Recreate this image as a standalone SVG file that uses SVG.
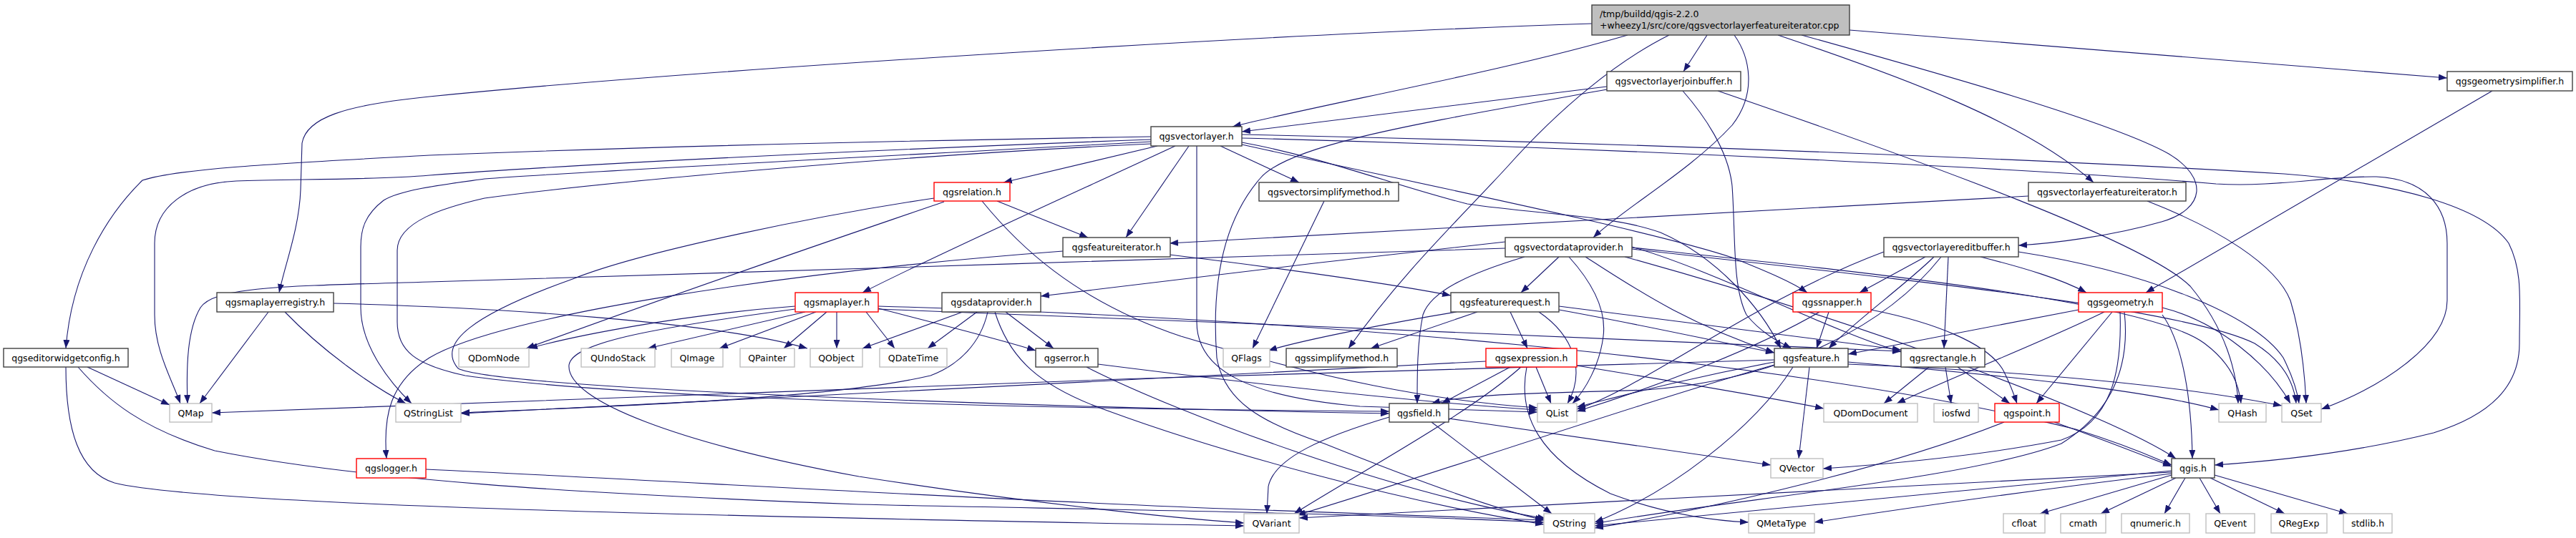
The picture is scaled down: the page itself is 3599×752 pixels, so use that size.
<svg xmlns="http://www.w3.org/2000/svg" width="3599" height="752" viewBox="0 0 3599 752">
<style>
.e{fill:none;stroke:#191970;stroke-width:1.1}
.n rect{fill:#fff;stroke:#404040;stroke-width:1.4}
.r rect{fill:#fff;stroke:#ff0000;stroke-width:1.4}
.g rect{fill:#fff;stroke:#bfbfbf;stroke-width:1.4}
.root rect{fill:#bfbfbf;stroke:#404040;stroke-width:1.4}
text{font-family:"DejaVu Sans","Liberation Sans",sans-serif;font-size:12.5px;fill:#000;text-anchor:middle}
.root text{text-anchor:start}
</style>
<defs>
<marker id="a" viewBox="0 0 12 9" refX="12" refY="4.5" markerWidth="12" markerHeight="9" markerUnits="userSpaceOnUse" orient="auto"><path d="M0,0L12,4.5L0,9z" fill="#191970"/></marker>
</defs>
<rect width="3599" height="752" fill="#fff"/>
<g id="edges">
<path class="e" marker-end="url(#a)" d="M2224,33 C1800,47 1000,95 600,135 C480,147 428,165 422,200 L420,265 C418,320 398,370 390,409"/>
<path class="e" marker-end="url(#a)" d="M2274,49 C2100,100 1850,145 1722,177"/>
<path class="e" marker-end="url(#a)" d="M2332,49 C2260,85 2180,150 2106,233 C2040,305 1960,380 1884,487"/>
<path class="e" marker-end="url(#a)" d="M2423,49 C2445,80 2455,130 2420,175 C2360,240 2270,290 2226,332"/>
<path class="e" marker-end="url(#a)" d="M2385,49 L2352,100"/>
<path class="e" marker-end="url(#a)" d="M2484,49 C2650,105 2830,170 2925,255"/>
<path class="e" marker-end="url(#a)" d="M2517,49 C2700,100 2950,170 3030,215 C3085,248 3082,292 3020,310 C2950,330 2870,340 2820,343"/>
<path class="e" marker-end="url(#a)" d="M2584,42 L3419,109"/>
<path class="e" marker-end="url(#a)" d="M2245,121 C2050,145 1850,170 1735,184"/>
<path class="e" marker-end="url(#a)" d="M2245,125 C2000,170 1800,200 1760,250 C1700,320 1694,420 1700,500 C1710,560 1760,590 1850,620 C1950,660 2080,710 2157,727"/>
<path class="e" marker-end="url(#a)" d="M2351,127 C2380,160 2415,210 2420,260 C2425,330 2420,400 2440,440 C2460,465 2485,478 2503,487"/>
<path class="e" marker-end="url(#a)" d="M2400,127 C2700,230 3000,340 3060,400 C3110,460 3125,520 3127,564"/>
<path class="e" marker-end="url(#a)" d="M1617,204 L1402,255"/>
<path class="e" marker-end="url(#a)" d="M1661,204 L1573,332"/>
<path class="e" marker-end="url(#a)" d="M1642,204 C1500,270 1300,360 1205,409"/>
<path class="e" marker-end="url(#a)" d="M1705,204 L1815,255"/>
<path class="e" marker-end="url(#a)" d="M1672,204 L1672,450 C1672,520 1750,555 1900,568 L2148,576"/>
<path class="e" marker-end="url(#a)" d="M1608,191 C1300,196 900,205 600,217 C400,228 250,235 199,252 C150,300 100,380 92,487"/>
<path class="e" marker-end="url(#a)" d="M1608,195 C1200,210 800,230 600,245 C520,252 400,250 330,253 C260,256 216,290 216,340 L216,440 C216,490 240,530 252,564"/>
<path class="e" marker-end="url(#a)" d="M1608,198 C1300,215 800,240 677,250 C620,258 560,265 536,280 C510,300 504,320 504,345 L504,430 C504,480 540,530 575,564"/>
<path class="e" marker-end="url(#a)" d="M1608,201 C1200,220 800,260 677,277 C620,290 555,310 555,350 L555,450 C555,490 580,510 650,525 C900,560 1500,572 1941,575"/>
<path class="e" marker-end="url(#a)" d="M1735,199 C1850,220 1950,260 2050,285 C2150,300 2250,300 2320,325 C2400,360 2460,430 2488,487"/>
<path class="e" marker-end="url(#a)" d="M1735,202 C1950,250 2300,320 2420,360 C2470,380 2505,395 2525,409"/>
<path class="e" marker-end="url(#a)" d="M1735,188 C2300,200 2900,225 3191,243 C3350,255 3470,290 3505,340 C3525,380 3520,420 3520,480 C3520,540 3480,580 3400,605 C3280,635 3170,645 3094,650"/>
<path class="e" marker-end="url(#a)" d="M1735,193 C2300,208 2900,240 3096,257 C3180,262 3250,246 3320,247 C3390,250 3419,290 3419,340 L3419,420 C3419,480 3330,540 3243,572"/>
<path class="e" marker-end="url(#a)" d="M1850,281 L1750,487"/>
<path class="e" marker-end="url(#a)" d="M2834,274 C2400,298 2000,320 1634,340"/>
<path class="e" marker-end="url(#a)" d="M3000,281 C3100,320 3180,370 3200,420 C3215,470 3220,520 3222,564"/>
<path class="e" marker-end="url(#a)" d="M1485,351 C1100,380 700,440 600,500 C545,535 535,580 540,641"/>
<path class="e" marker-end="url(#a)" d="M1634,356 C1800,376 1950,398 2027,413"/>
<path class="e" marker-end="url(#a)" d="M2103,338 C1900,360 1600,395 1454,414"/>
<path class="e" marker-end="url(#a)" d="M2178,359 L2125,409"/>
<path class="e" marker-end="url(#a)" d="M2130,359 C2060,380 2000,405 1988,440 C1980,480 1980,520 1980,564"/>
<path class="e" marker-end="url(#a)" d="M2192,359 C2220,390 2245,430 2240,470 C2235,510 2215,545 2197,564"/>
<path class="e" marker-end="url(#a)" d="M2215,359 C2280,400 2350,450 2479,493"/>
<path class="e" marker-end="url(#a)" d="M2280,345 C2400,380 2550,460 2656,492"/>
<path class="e" marker-end="url(#a)" d="M2280,346 C2600,380 3000,420 3080,480 C3120,510 3128,540 3131,564"/>
<path class="e" marker-end="url(#a)" d="M2280,348 C2650,390 3050,430 3150,480 C3190,505 3205,535 3208,564"/>
<path class="e" marker-end="url(#a)" d="M2270,359 C2600,450 2950,580 3040,641"/>
<path class="e" marker-end="url(#a)" d="M2103,347 C1700,360 900,385 600,394 C400,400 300,400 280,430 C262,460 260,510 262,564"/>
<path class="e" marker-end="url(#a)" d="M2767,359 C2830,375 2880,390 2915,409"/>
<path class="e" marker-end="url(#a)" d="M2690,359 L2598,409"/>
<path class="e" marker-end="url(#a)" d="M2702,359 C2660,400 2590,450 2555,487"/>
<path class="e" marker-end="url(#a)" d="M2722,359 L2716,487"/>
<path class="e" marker-end="url(#a)" d="M2712,359 C2640,450 2500,530 2300,545 C2150,550 2050,550 2000,564"/>
<path class="e" marker-end="url(#a)" d="M2632,352 C2450,420 2300,540 2203,572"/>
<path class="e" marker-end="url(#a)" d="M2820,352 C3000,380 3150,440 3190,500 C3205,530 3210,550 3212,564"/>
<path class="e" marker-end="url(#a)" d="M375,436 L279,564"/>
<path class="e" marker-end="url(#a)" d="M398,436 C450,490 520,540 567,564"/>
<path class="e" marker-end="url(#a)" d="M466,424 C700,430 1000,450 1128,487"/>
<path class="e" marker-end="url(#a)" d="M1111,428 C950,440 800,470 739,487"/>
<path class="e" marker-end="url(#a)" d="M1125,436 L905,487"/>
<path class="e" marker-end="url(#a)" d="M1140,436 L1005,487"/>
<path class="e" marker-end="url(#a)" d="M1155,436 L1095,487"/>
<path class="e" marker-end="url(#a)" d="M1169,436 L1169,487"/>
<path class="e" marker-end="url(#a)" d="M1210,436 L1250,487"/>
<path class="e" marker-end="url(#a)" d="M1227,431 C1320,455 1400,475 1447,490"/>
<path class="e" marker-end="url(#a)" d="M1111,432 C900,460 800,480 795,510 C790,560 950,620 1200,666 C1450,705 1650,725 1738,731"/>
<path class="e" marker-end="url(#a)" d="M1227,428 C1800,444 2500,500 2900,600 C2980,625 3010,640 3034,650"/>
<path class="e" marker-end="url(#a)" d="M1227,432 C1700,450 2300,475 2656,491"/>
<path class="e" marker-end="url(#a)" d="M1365,436 L1296,487"/>
<path class="e" marker-end="url(#a)" d="M1345,436 L1205,487"/>
<path class="e" marker-end="url(#a)" d="M1405,436 L1472,487"/>
<path class="e" marker-end="url(#a)" d="M1380,436 C1370,480 1340,510 1300,525 C1150,560 800,570 644,577"/>
<path class="e" marker-end="url(#a)" d="M1390,436 C1410,500 1450,540 1550,575 C1700,630 1950,700 2157,733"/>
<path class="e" marker-end="url(#a)" d="M1534,509 C1700,530 1950,560 2148,573"/>
<path class="e" marker-end="url(#a)" d="M1518,513 C1650,580 1950,690 2160,725"/>
<path class="e" marker-end="url(#a)" d="M2035,436 C1950,450 1820,475 1772,490"/>
<path class="e" marker-end="url(#a)" d="M2064,436 L1915,487"/>
<path class="e" marker-end="url(#a)" d="M2110,436 L2134,487"/>
<path class="e" marker-end="url(#a)" d="M2150,436 C2200,470 2215,520 2190,564"/>
<path class="e" marker-end="url(#a)" d="M2178,433 C2300,455 2400,478 2479,493"/>
<path class="e" marker-end="url(#a)" d="M2178,428 C2350,450 2550,475 2656,489"/>
<path class="e" marker-end="url(#a)" d="M2110,513 L2014,564"/>
<path class="e" marker-end="url(#a)" d="M2125,513 C2050,580 1900,660 1808,718"/>
<path class="e" marker-end="url(#a)" d="M2146,513 L2167,564"/>
<path class="e" marker-end="url(#a)" d="M2133,513 C2120,580 2150,640 2250,690 C2330,720 2400,728 2443,730"/>
<path class="e" marker-end="url(#a)" d="M2076,505 C1600,530 1000,560 644,578"/>
<path class="e" marker-end="url(#a)" d="M2203,511 C2350,535 2470,555 2548,571"/>
<path class="e" marker-end="url(#a)" d="M2528,513 L2513,641"/>
<path class="e" marker-end="url(#a)" d="M2479,503 C1800,520 800,555 296,577"/>
<path class="e" marker-end="url(#a)" d="M2505,513 C2450,600 2330,690 2228,730"/>
<path class="e" marker-end="url(#a)" d="M2479,510 C2300,560 1950,680 1812,720"/>
<path class="e" marker-end="url(#a)" d="M2479,506 C2350,530 2260,555 2203,569"/>
<path class="e" marker-end="url(#a)" d="M2582,506 C2800,525 3000,545 3100,573"/>
<path class="e" marker-end="url(#a)" d="M2582,509 C2850,520 3050,540 3188,567"/>
<path class="e" marker-end="url(#a)" d="M2695,513 L2632,564"/>
<path class="e" marker-end="url(#a)" d="M2718,513 L2726,564"/>
<path class="e" marker-end="url(#a)" d="M2735,513 L2808,564"/>
<path class="e" marker-end="url(#a)" d="M2555,436 L2538,487"/>
<path class="e" marker-end="url(#a)" d="M2542,436 C2450,490 2300,545 2203,575"/>
<path class="e" marker-end="url(#a)" d="M2614,433 C2700,450 2780,480 2800,520 C2810,540 2815,555 2818,564"/>
<path class="e" marker-end="url(#a)" d="M2904,433 L2582,495"/>
<path class="e" marker-end="url(#a)" d="M2940,436 C2850,480 2720,530 2650,564"/>
<path class="e" marker-end="url(#a)" d="M2951,436 L2845,564"/>
<path class="e" marker-end="url(#a)" d="M2962,436 C2965,520 2950,590 2880,615 C2750,640 2620,650 2547,655"/>
<path class="e" marker-end="url(#a)" d="M2968,436 C2975,500 2960,570 2880,620 C2750,670 2400,700 2228,732"/>
<path class="e" marker-end="url(#a)" d="M3021,430 C3100,450 3170,510 3200,564"/>
<path class="e" marker-end="url(#a)" d="M3021,440 C3050,480 3062,560 3063,641"/>
<path class="e" marker-end="url(#a)" d="M2800,590 C2650,650 2400,710 2228,738"/>
<path class="e" marker-end="url(#a)" d="M2870,590 C2940,615 2990,635 3034,652"/>
<path class="e" marker-end="url(#a)" d="M1941,583 C1850,610 1780,640 1772,680 L1770,718"/>
<path class="e" marker-end="url(#a)" d="M2000,590 L2168,718"/>
<path class="e" marker-end="url(#a)" d="M2024,585 C2200,610 2380,635 2474,650"/>
<path class="e" marker-end="url(#a)" d="M595,656 C900,670 1400,700 1740,712 C1900,717 2050,722 2157,727"/>
<path class="e" marker-end="url(#a)" d="M122,513 L237,566"/>
<path class="e" marker-end="url(#a)" d="M109,513 C150,560 200,600 300,630 C500,670 800,690 1200,705 C1500,712 1800,714 2157,730"/>
<path class="e" marker-end="url(#a)" d="M92,513 C92,600 110,660 160,675 C300,710 1200,725 1738,735"/>
<path class="e" marker-end="url(#a)" d="M3034,664 L2850,718"/>
<path class="e" marker-end="url(#a)" d="M3040,668 L2935,718"/>
<path class="e" marker-end="url(#a)" d="M3053,668 L3024,718"/>
<path class="e" marker-end="url(#a)" d="M3073,668 L3102,718"/>
<path class="e" marker-end="url(#a)" d="M3088,668 L3192,718"/>
<path class="e" marker-end="url(#a)" d="M3094,664 L3280,718"/>
<path class="e" marker-end="url(#a)" d="M3034,662 C2800,690 2600,720 2535,730"/>
<path class="e" marker-end="url(#a)" d="M3034,658 C2700,690 2400,720 2228,735"/>
<path class="e" marker-end="url(#a)" d="M3034,660 C2700,680 2300,700 1815,724"/>
<path class="e" marker-end="url(#a)" d="M3482,127 L2998,409"/>
<path class="e" marker-end="url(#a)" d="M1393,281 L1520,332"/>
<path class="e" marker-end="url(#a)" d="M1319,282 C1200,323 1000,390 735,487"/>
<path class="e" marker-end="url(#a)" d="M1305,277 C1150,300 900,350 800,390 C660,440 610,480 640,515 C700,545 1500,570 1941,578"/>
<path class="e" marker-end="url(#a)" d="M1372,281 C1420,340 1500,420 1650,470 C1850,530 2000,560 2148,570"/>
</g>
<g id="n_root" class="root"><rect x="2224" y="7" width="360" height="42"/><text x="2235" y="24">/tmp/buildd/qgis-2.2.0</text><text x="2235" y="40">+wheezy1/src/core/qgsvectorlayerfeatureiterator.cpp</text></g>
<g id="n_joinbuffer" class="n"><rect x="2245" y="100" width="187" height="27"/><text x="2338.5" y="118">qgsvectorlayerjoinbuffer.h</text></g>
<g id="n_geomsimplifier" class="n"><rect x="3419" y="100" width="175" height="27"/><text x="3506.5" y="118">qgsgeometrysimplifier.h</text></g>
<g id="n_vectorlayer" class="n"><rect x="1608" y="177" width="127" height="27"/><text x="1671.5" y="195">qgsvectorlayer.h</text></g>
<g id="n_relation" class="r"><rect x="1305" y="255" width="106" height="26"/><text x="1358" y="273">qgsrelation.h</text></g>
<g id="n_vsimplify" class="n"><rect x="1759" y="255" width="195" height="26"/><text x="1856.5" y="273">qgsvectorsimplifymethod.h</text></g>
<g id="n_vlfi" class="n"><rect x="2834" y="255" width="220" height="26"/><text x="2944" y="273">qgsvectorlayerfeatureiterator.h</text></g>
<g id="n_featureiterator" class="n"><rect x="1485" y="332" width="150" height="27"/><text x="1560" y="350">qgsfeatureiterator.h</text></g>
<g id="n_vdp" class="n"><rect x="2103" y="332" width="177" height="27"/><text x="2191.5" y="350">qgsvectordataprovider.h</text></g>
<g id="n_editbuffer" class="n"><rect x="2632" y="332" width="188" height="27"/><text x="2726" y="350">qgsvectorlayereditbuffer.h</text></g>
<g id="n_mlregistry" class="n"><rect x="303" y="409" width="163" height="27"/><text x="384.5" y="427">qgsmaplayerregistry.h</text></g>
<g id="n_maplayer" class="r"><rect x="1111" y="409" width="116" height="27"/><text x="1169" y="427">qgsmaplayer.h</text></g>
<g id="n_dataprovider" class="n"><rect x="1316" y="409" width="138" height="27"/><text x="1385" y="427">qgsdataprovider.h</text></g>
<g id="n_featurerequest" class="n"><rect x="2027" y="409" width="151" height="27"/><text x="2102.5" y="427">qgsfeaturerequest.h</text></g>
<g id="n_snapper" class="r"><rect x="2505" y="409" width="109" height="27"/><text x="2559.5" y="427">qgssnapper.h</text></g>
<g id="n_geometry" class="r"><rect x="2904" y="409" width="117" height="27"/><text x="2962.5" y="427">qgsgeometry.h</text></g>
<g id="n_editorwidget" class="n"><rect x="5" y="487" width="174" height="26"/><text x="92" y="505">qgseditorwidgetconfig.h</text></g>
<g id="n_QDomNode" class="g"><rect x="641" y="487" width="98" height="26"/><text x="690" y="505">QDomNode</text></g>
<g id="n_QUndoStack" class="g"><rect x="812" y="487" width="103" height="26"/><text x="863.5" y="505">QUndoStack</text></g>
<g id="n_QImage" class="g"><rect x="938" y="487" width="72" height="26"/><text x="974" y="505">QImage</text></g>
<g id="n_QPainter" class="g"><rect x="1034" y="487" width="76" height="26"/><text x="1072" y="505">QPainter</text></g>
<g id="n_QObject" class="g"><rect x="1132" y="487" width="73" height="26"/><text x="1168.5" y="505">QObject</text></g>
<g id="n_QDateTime" class="g"><rect x="1229" y="487" width="94" height="26"/><text x="1276" y="505">QDateTime</text></g>
<g id="n_error" class="n"><rect x="1447" y="487" width="87" height="26"/><text x="1490.5" y="505">qgserror.h</text></g>
<g id="n_QFlags" class="g"><rect x="1709" y="487" width="65" height="26"/><text x="1741.5" y="505">QFlags</text></g>
<g id="n_simplifymethod" class="n"><rect x="1797" y="487" width="155" height="26"/><text x="1874.5" y="505">qgssimplifymethod.h</text></g>
<g id="n_expression" class="r"><rect x="2076" y="487" width="127" height="26"/><text x="2139.5" y="505">qgsexpression.h</text></g>
<g id="n_feature" class="n"><rect x="2479" y="487" width="103" height="26"/><text x="2530.5" y="505">qgsfeature.h</text></g>
<g id="n_rectangle" class="n"><rect x="2656" y="487" width="117" height="26"/><text x="2714.5" y="505">qgsrectangle.h</text></g>
<g id="n_QMap" class="g"><rect x="237" y="564" width="59" height="26"/><text x="266.5" y="582">QMap</text></g>
<g id="n_QStringList" class="g"><rect x="553" y="564" width="91" height="26"/><text x="598.5" y="582">QStringList</text></g>
<g id="n_field" class="n"><rect x="1941" y="564" width="83" height="26"/><text x="1982.5" y="582">qgsfield.h</text></g>
<g id="n_QList" class="g"><rect x="2148" y="564" width="55" height="26"/><text x="2175.5" y="582">QList</text></g>
<g id="n_QDomDocument" class="g"><rect x="2548" y="564" width="131" height="26"/><text x="2613.5" y="582">QDomDocument</text></g>
<g id="n_iosfwd" class="g"><rect x="2702" y="564" width="62" height="26"/><text x="2733" y="582">iosfwd</text></g>
<g id="n_point" class="r"><rect x="2787" y="564" width="90" height="26"/><text x="2832" y="582">qgspoint.h</text></g>
<g id="n_QHash" class="g"><rect x="3100" y="564" width="66" height="26"/><text x="3133" y="582">QHash</text></g>
<g id="n_QSet" class="g"><rect x="3188" y="564" width="55" height="26"/><text x="3215.5" y="582">QSet</text></g>
<g id="n_logger" class="r"><rect x="498" y="641" width="97" height="27"/><text x="546.5" y="659">qgslogger.h</text></g>
<g id="n_QVector" class="g"><rect x="2474" y="641" width="73" height="27"/><text x="2510.5" y="659">QVector</text></g>
<g id="n_qgis" class="n"><rect x="3034" y="641" width="60" height="27"/><text x="3064" y="659">qgis.h</text></g>
<g id="n_QVariant" class="g"><rect x="1738" y="718" width="77" height="27"/><text x="1776.5" y="736">QVariant</text></g>
<g id="n_QString" class="g"><rect x="2157" y="718" width="71" height="27"/><text x="2192.5" y="736">QString</text></g>
<g id="n_QMetaType" class="g"><rect x="2443" y="718" width="92" height="27"/><text x="2489" y="736">QMetaType</text></g>
<g id="n_cfloat" class="g"><rect x="2799" y="718" width="58" height="27"/><text x="2828" y="736">cfloat</text></g>
<g id="n_cmath" class="g"><rect x="2879" y="718" width="63" height="27"/><text x="2910.5" y="736">cmath</text></g>
<g id="n_qnumeric" class="g"><rect x="2964" y="718" width="95" height="27"/><text x="3011.5" y="736">qnumeric.h</text></g>
<g id="n_QEvent" class="g"><rect x="3082" y="718" width="68" height="27"/><text x="3116" y="736">QEvent</text></g>
<g id="n_QRegExp" class="g"><rect x="3173" y="718" width="78" height="27"/><text x="3212" y="736">QRegExp</text></g>
<g id="n_stdlib" class="g"><rect x="3274" y="718" width="68" height="27"/><text x="3308" y="736">stdlib.h</text></g>
</svg>
